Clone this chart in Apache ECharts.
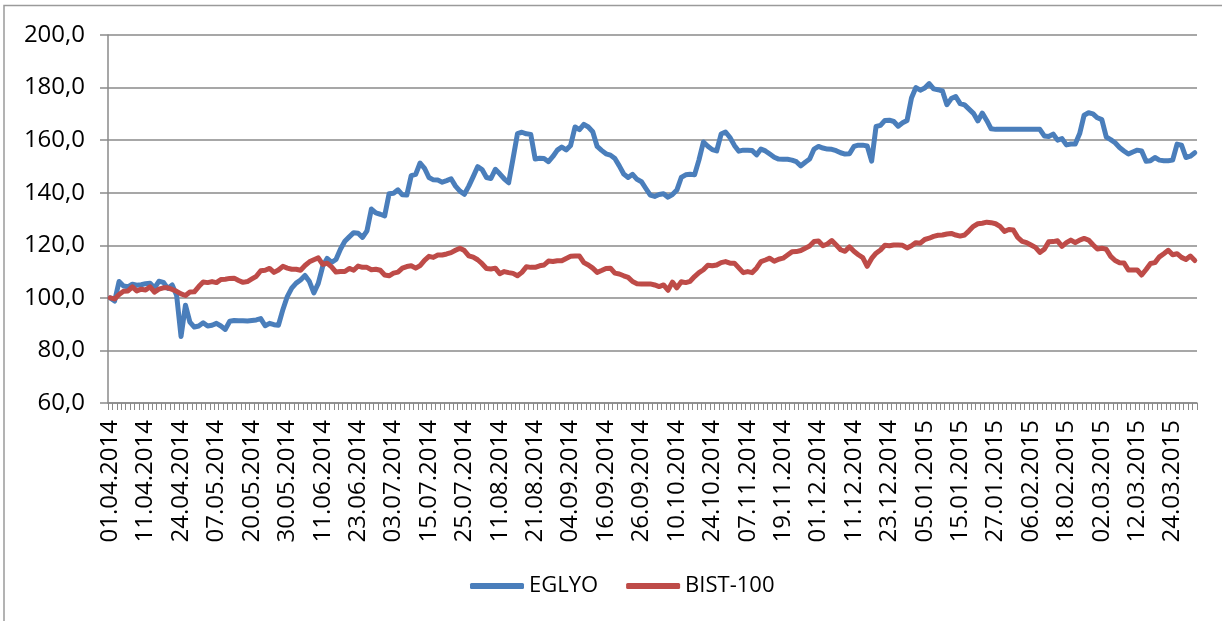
<!DOCTYPE html>
<html>
<head>
<meta charset="utf-8">
<script src="https://cdn.jsdelivr.net/npm/echarts@6.0.0/dist/echarts.min.js"></script>
<style>
    html, body { margin: 0; padding: 0; background: #fff; }
    #chart { width: 1222px; height: 621px; }
</style>
</head>
<body>
<div id="chart"></div>
<script>
// işlem günleri: 01.04.2014 - 31.03.2015 arası hafta içi, tatiller hariç
var firstDay = [2014, 3, 1];
var lastDay = [2015, 2, 31];
var skipDays = [
    '23.04.2014', '01.05.2014', '19.05.2014',
    '28.07.2014', '29.07.2014', '30.07.2014',
    '29.08.2014', '01.09.2014',
    '06.10.2014', '07.10.2014', '13.10.2014', '14.10.2014',
    '28.10.2014', '29.10.2014', '01.01.2015'
];

var eglyo = [
    100.0, 98.8, 106.2, 104.5, 104.2, 105.2, 104.8, 105.0, 105.4, 105.6,
    103.8, 106.3, 105.9, 103.6, 104.9, 101.0, 85.3, 97.2, 90.8, 88.9,
    89.3, 90.5, 89.3, 89.6, 90.3, 89.3, 88.0, 91.1, 91.4, 91.3,
    91.3, 91.2, 91.4, 91.6, 92.1, 89.4, 90.3, 89.8, 89.6, 95.5,
    100.5, 103.7, 105.6, 106.8, 108.5, 106.2, 101.9, 105.5, 112.0, 115.0,
    113.5, 114.6, 118.5, 121.5, 123.2, 124.8, 124.6, 123.0, 125.5, 133.8,
    132.3, 131.8, 131.2, 139.6, 139.8, 141.1, 139.2, 139.1, 146.5, 147.0,
    151.3, 149.3, 145.8, 144.9, 144.8, 144.0, 144.6, 145.3, 142.5, 140.6,
    139.4, 142.5, 146.1, 149.9, 148.8, 145.8, 145.4, 148.9, 147.2, 145.3,
    143.8, 153.0, 162.5, 163.0, 162.4, 162.2, 152.8, 153.1, 153.0, 151.8,
    153.8, 156.2, 157.4, 156.3, 158.0, 165.0, 164.0, 166.0, 165.0, 163.2,
    157.6, 156.1, 154.8, 154.3, 153.0, 150.2, 147.1, 145.8, 147.0, 145.1,
    144.2, 141.6, 139.1, 138.6, 139.3, 139.6, 138.3, 139.3, 141.0, 145.8,
    146.8, 147.0, 146.8, 152.5, 159.3, 157.7, 156.4, 155.9, 162.3, 163.1,
    161.0, 158.0, 155.8, 156.2, 156.2, 156.1, 154.4, 156.6, 155.9, 154.7,
    153.5, 152.8, 152.7, 152.7, 152.4, 151.8, 150.2, 151.6, 152.8, 156.6,
    157.6, 157.0, 156.6, 156.5, 156.0, 155.2, 154.7, 154.8, 157.6, 158.1,
    158.1, 157.8, 152.0, 165.2, 165.6, 167.5, 167.6, 167.1, 165.3, 166.6,
    167.5, 176.0, 180.0, 179.0, 179.8, 181.5, 179.5, 179.2, 178.7, 173.5,
    175.8, 176.6, 173.9, 173.4, 171.8, 170.2, 167.3, 170.3, 167.5, 164.3,
    164.1, 164.1, 164.1, 164.1, 164.1, 164.1, 164.1, 164.1, 164.1, 164.1,
    164.1, 161.6, 161.4, 162.3, 160.0, 160.6, 158.2, 158.5, 158.5, 162.5,
    169.5, 170.4, 170.0, 168.5, 167.8, 161.2, 160.2, 159.0, 157.2, 155.9,
    154.7, 155.5, 156.2, 155.9, 152.0, 152.2, 153.4, 152.4, 152.2, 152.2,
    152.4, 158.5, 158.1, 153.4, 153.9, 155.2
];

var bist100 = [
    100.0, 99.6, 101.3, 102.5, 102.6, 104.2, 102.6, 103.3, 103.0, 104.2,
    102.2, 103.3, 103.8, 103.8, 103.2, 102.5, 101.5, 100.9, 102.2, 102.3,
    104.3, 106.0, 105.8, 106.2, 105.8, 107.0, 107.1, 107.4, 107.5, 106.6,
    105.9, 106.2, 107.2, 108.2, 110.3, 110.5, 111.2, 109.7, 110.6, 112.0,
    111.3, 110.9, 110.9, 110.5, 112.3, 113.7, 114.5, 115.2, 112.7, 113.2,
    111.8, 109.8, 110.0, 110.0, 111.2, 110.5, 112.1, 111.6, 111.6, 110.7,
    110.9, 110.5, 108.7, 108.4, 109.4, 109.8, 111.3, 111.9, 112.2, 111.3,
    112.3, 114.3, 115.8, 115.4, 116.3, 116.3, 116.7, 117.2, 118.1, 118.9,
    118.0, 116.0, 115.5, 114.5, 113.0, 111.2, 111.0, 111.3, 109.2, 110.0,
    109.6, 109.3, 108.4, 109.7, 111.8, 111.6, 111.6, 112.2, 112.5, 114.0,
    113.8, 114.1, 114.1, 115.0, 115.8, 115.9, 115.9, 113.4, 112.5, 111.3,
    109.7, 110.4, 111.2, 111.3, 109.4, 109.1, 108.4, 107.8, 106.2, 105.4,
    105.3, 105.3, 105.3, 104.9, 104.3, 104.9, 102.9, 106.0, 103.8, 106.1,
    105.8, 106.3, 108.1, 109.6, 110.7, 112.4, 112.2, 112.5, 113.4, 113.8,
    113.2, 113.2, 111.4, 109.6, 110.0, 109.6, 111.3, 113.8, 114.4, 115.1,
    113.9, 114.7, 115.1, 116.3, 117.5, 117.6, 118.0, 118.9, 119.7, 121.4,
    121.6, 119.8, 120.5, 121.8, 120.1, 118.3, 117.7, 119.4, 117.7, 116.4,
    115.3, 112.0, 115.0, 117.0, 118.2, 120.0, 119.8, 120.1, 120.1, 120.0,
    119.0, 119.8, 121.0, 120.8, 122.2, 122.7, 123.4, 123.8, 123.9, 124.3,
    124.5, 123.9, 123.5, 123.9, 125.5, 127.2, 128.2, 128.4, 128.8, 128.6,
    128.2, 127.2, 125.3, 126.0, 125.8, 123.0, 121.5, 121.0, 120.1, 119.2,
    117.3, 118.5, 121.3, 121.4, 121.7, 119.6, 121.0, 122.0, 121.0, 122.0,
    122.6, 122.0, 120.2, 118.6, 118.9, 118.5, 115.8, 114.2, 113.4, 113.3,
    110.6, 110.6, 110.6, 108.7, 110.8, 113.1, 113.4, 115.6, 116.8, 118.1,
    116.4, 116.8, 115.4, 114.6, 115.9, 114.2
];

var yTicks = { min: 60, max: 200, step: 20 };

function pad(n) {
    return n < 10 ? '0' + n : '' + n;
}

// tarih listesini oluştur
function buildDays() {
    var days = [];
    var d = new Date(firstDay[0], firstDay[1], firstDay[2]);
    var end = new Date(lastDay[0], lastDay[1], lastDay[2]);
    while (d <= end) {
        var wd = d.getDay();
        var label = pad(d.getDate()) + '.' + pad(d.getMonth() + 1) + '.' + d.getFullYear();
        if (wd !== 0 && wd !== 6 && skipDays.indexOf(label) === -1) {
            days.push(label);
        }
        d.setDate(d.getDate() + 1);
    }
    return days;
}

var days = buildDays();
var textFont = 'Open Sans';
var gridColor = '#8a8a8a';

var myChart = echarts.init(document.getElementById('chart'));

var option = {
    animation: false,
    backgroundColor: '#fff',
    graphic: [
        {
            type: 'rect',
            shape: { x: 4, y: 5.5, width: 1300, height: 700 },
            style: { fill: 'none', stroke: '#9a9a9a', lineWidth: 1.5 },
            silent: true
        }
    ],
    grid: {
        left: 108,
        right: 25,
        top: 35,
        bottom: 218
    },
    legend: {
        left: 465,
        top: 570,
        icon: 'roundRect',
        itemWidth: 54,
        itemHeight: 6,
        itemGap: 28,
        textStyle: {
            color: '#000',
            fontSize: 22,
            fontFamily: textFont
        },
        data: ['EGLYO', 'BIST-100']
    },
    xAxis: {
        type: 'category',
        data: days,
        boundaryGap: true,
        axisLine: {
            lineStyle: { color: gridColor, width: 1.5 }
        },
        axisTick: {
            show: true,
            interval: 0,
            length: 7,
            lineStyle: { color: gridColor, width: 1 }
        },
        axisLabel: {
            interval: 7,
            rotate: 90,
            margin: 17,
            color: '#000',
            fontSize: 24,
            fontFamily: textFont
        },
        splitLine: { show: false }
    },
    yAxis: {
        type: 'value',
        min: yTicks.min,
        max: yTicks.max,
        interval: yTicks.step,
        axisLine: {
            show: true,
            lineStyle: { color: gridColor, width: 1.5 }
        },
        axisTick: {
            show: true,
            length: 8,
            lineStyle: { color: gridColor, width: 1.5 }
        },
        axisLabel: {
            margin: 23,
            color: '#000',
            fontSize: 24,
            fontFamily: textFont,
            formatter: function (value) {
                return value.toFixed(1).replace('.', ',');
            }
        },
        splitLine: {
            show: true,
            lineStyle: { color: gridColor, width: 1.5 }
        }
    },
    series: [
        {
            name: 'EGLYO',
            type: 'line',
            data: eglyo,
            symbol: 'none',
            color: '#4A7EBB',
            lineStyle: { width: 5, color: '#4A7EBB', cap: 'round', join: 'round' }
        },
        {
            name: 'BIST-100',
            type: 'line',
            data: bist100,
            symbol: 'none',
            color: '#BE4B48',
            lineStyle: { width: 5, color: '#BE4B48', cap: 'round', join: 'round' }
        }
    ]
};

myChart.setOption(option);
</script>
</body>
</html>
